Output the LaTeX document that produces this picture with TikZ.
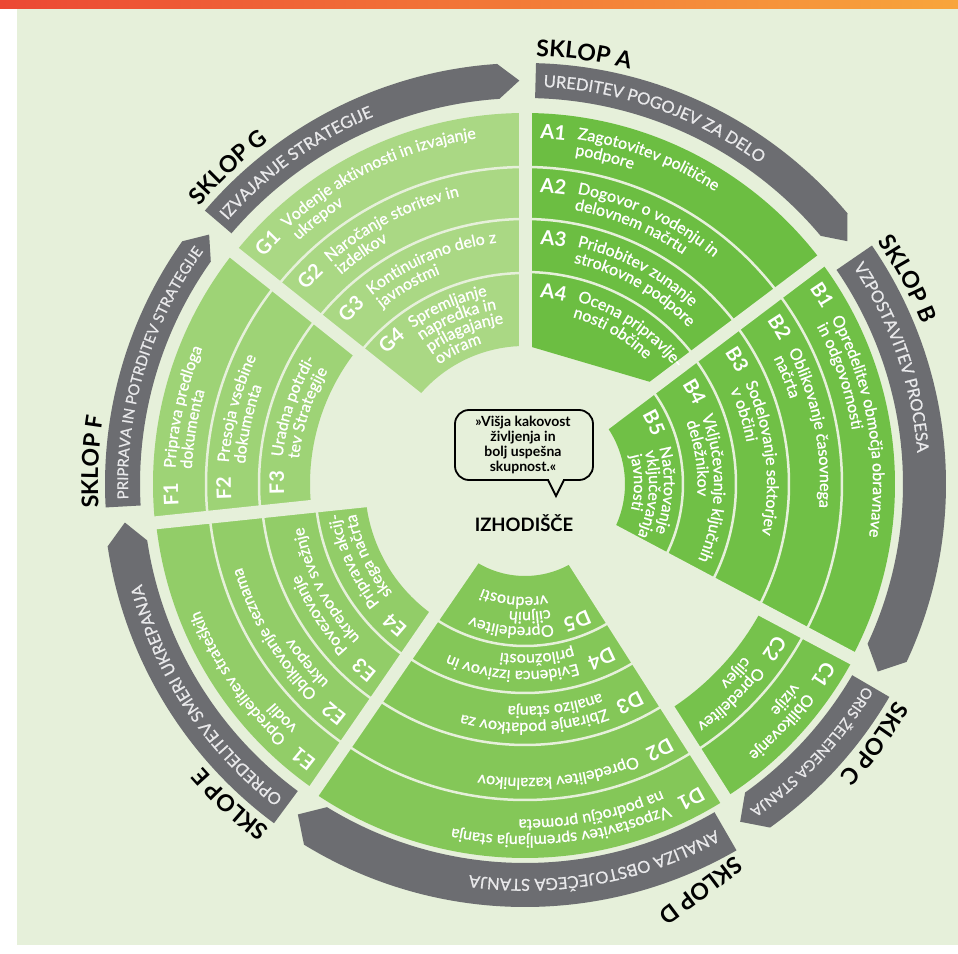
\documentclass[tikz,border=0pt]{standalone}
\usepackage{fontspec}
\setmainfont{Lato}
\newfontfamily\latomed[FakeBold=1.0]{Lato}
\newfontfamily\latoband[FakeBold=0.8]{Lato}
\usetikzlibrary{decorations.text}
\definecolor{bg}{RGB}{230,240,218}
\definecolor{gA}{RGB}{108,190,66}
\definecolor{gB}{RGB}{112,192,70}
\definecolor{gC}{RGB}{118,194,76}
\definecolor{gD}{RGB}{132,199,88}
\definecolor{gE}{RGB}{146,205,104}
\definecolor{gF}{RGB}{158,211,118}
\definecolor{gG}{RGB}{170,216,132}
\definecolor{bandc}{RGB}{108,109,113}
\definecolor{bandtxt}{RGB}{232,232,234}
\definecolor{orA}{RGB}{236,72,52}
\definecolor{orB}{RGB}{248,165,60}
\newcommand\bodyfont{\latomed\fontsize{16}{18}\selectfont}
\newcommand\labfont{\bfseries\fontsize{20}{22}\selectfont}
\newcommand\bandfont{\latoband\fontsize{16.5}{19}\selectfont}
\newcommand\bandfontc{\latoband\fontsize{14.8}{19}\selectfont}
\newcommand\bandfontf{\latoband\fontsize{14.9}{19}\selectfont}
\newcommand\sklopfont{\bfseries\fontsize{23}{25}\selectfont}
% text along a clockwise arc: radius, start angle, span, colour, font, text
\newcommand\arctxt[6]{\path[decorate,decoration={text along path,text align=left,text color=#4,text={|#5|#6}}] (#2:#1) arc[start angle=#2,end angle=#2-#3,radius=#1];}
\newcommand\mylab[3]{\pgfmathsetmacro\qqa{#1-15/#2*57.2958}\arctxt{#2}{\qqa}{70}{white}{\labfont}{#3}}
\newcommand\mytxt[4]{\pgfmathsetmacro\qqb{#1-52/#3*57.2958}\arctxt{#2}{\qqb}{110}{white}{\bodyfont}{#4}}
\newcommand\cellone[4]{\pgfmathsetmacro\qqr{#2-25}\pgfmathsetmacro\qqs{#2-22}%
 \mylab{#1}{\qqr}{#3}\mytxt{#1}{\qqs}{\qqr}{#4}}
\newcommand\celltwo[5]{\pgfmathsetmacro\qqr{#2-25}\pgfmathsetmacro\qqs{#2-22}\pgfmathsetmacro\qqt{#2-38.5}%
 \mylab{#1}{\qqr}{#3}\mytxt{#1}{\qqs}{\qqr}{#4}\mytxt{#1}{\qqt}{\qqr}{#5}}
\newcommand\cellthree[6]{\pgfmathsetmacro\qqr{#2-22}\pgfmathsetmacro\qqs{#2-19}\pgfmathsetmacro\qqt{#2-34}\pgfmathsetmacro\qqu{#2-49}%
 \mylab{#1}{\qqr}{#3}\mytxt{#1}{\qqs}{\qqr}{#4}\mytxt{#1}{\qqt}{\qqr}{#5}\mytxt{#1}{\qqu}{\qqr}{#6}}
\newcommand\cellfour[7]{\pgfmathsetmacro\qqr{#2-22}\pgfmathsetmacro\qqs{#2-19}\pgfmathsetmacro\qqt{#2-34}\pgfmathsetmacro\qqu{#2-49}\pgfmathsetmacro\qqv{#2-64}%
 \mylab{#1}{\qqr}{#3}\mytxt{#1}{\qqs}{\qqr}{#4}\mytxt{#1}{\qqt}{\qqr}{#5}\mytxt{#1}{\qqu}{\qqr}{#6}\mytxt{#1}{\qqv}{\qqr}{#7}}
% annular sector: a1, a2, rin, rout, colour
\newcommand\sector[5]{\fill[#5] (#1:#4) arc[start angle=#1,end angle=#2,radius=#4] -- (#2:#3) arc[start angle=#2,end angle=#1,radius=#3] -- cycle;}
\newcommand\divider[3]{\draw[bg,line width=2.5] (#1:#3) arc[start angle=#1,end angle=#2,radius=#3];}
% gray band arrow: tail, tip, rin, rout
\newcommand\band[4]{\pgfmathsetmacro\qqc{#2+3}\pgfmathsetmacro\qqm{(#3+#4)/2}%
 \fill[bandc] (#1:#4) arc[start angle=#1,end angle=\qqc,radius=#4] -- (#2:\qqm) -- (\qqc:#3) arc[start angle=\qqc,end angle=#1,radius=#3] -- cycle;}
\newcommand\bandtxt[5]{\pgfmathsetmacro\qqd{#1-#5/#2*57.2958}\arctxt{#2}{\qqd}{80}{bandtxt}{#3}{#4}}
\newcommand\sklop[3]{\arctxt{#2}{#1}{60}{black}{\sklopfont}{#3}}
\begin{document}
\begin{tikzpicture}[x=1pt,y=1pt]
\useasboundingbox (-525,-469) rectangle (433,484);
\fill[white] (-525,-469) rectangle (433,484);
\fill[bg] (-508,-461) rectangle (433,475);
\shade[left color=orA,right color=orB] (-525,475) rectangle (433,484);
% green sectors
\fill[gA] (90:371) arc[start angle=90,end angle=37,radius=371] -- (37:166) -- (90:139) -- cycle;
\foreach \r in {317,265,212} {\divider{90}{37}{\r}}
\sector{37}{-28}{100}{370}{gB}
\foreach \r in {317,264,211,158} {\divider{37}{-28}{\r}}
\sector{-28}{-57.5}{268}{372}{gC}
\divider{-28}{-57.5}{317}
\sector{-57.5}{-124.5}{92}{374}{gD}
\foreach \r in {316,261,209,162} {\divider{-57.5}{-124.5}{\r}}
\sector{-124.5}{-174}{160}{371}{gE}
\foreach \r in {317,264,210} {\divider{-124.5}{-174}{\r}}
\sector{-174}{-218.5}{215}{372}{gF}
\foreach \r in {319,266} {\divider{-174}{-218.5}{\r}}
\sector{-218.5}{-270}{138}{371}{gG}
\foreach \r in {317,265,211} {\divider{-218.5}{-270}{\r}}
\foreach \g in {90,37,-28,-57.5,-124.5,-174,-218.5} {\draw[bg,line width=13] (0,0) -- (\g:377);}
% gray bands
\band{88.5}{37}{386}{421}
\band{34.5}{-28}{378}{421}
\band{-30.3}{-57.5}{379}{422}
\band{-60}{-124.5}{379}{423}
\band{-126.5}{-174.5}{382}{422}
\band{-176.8}{-218.3}{385}{420}
\band{-220.5}{-269.2}{386}{421}
\bandtxt{88.5}{397.5}{\bandfont}{UREDITEV POGOJEV ZA DELO}{8}
\bandtxt{34.5}{393.5}{\bandfont}{VZPOSTAVITEV PROCESA}{7}
\bandtxt{-30.3}{395}{\bandfontc}{ORIS ŽELENEGA STANJA}{3}
\bandtxt{-60}{395}{\bandfont}{ANALIZA OBSTOJEČEGA STANJA}{8}
\bandtxt{-126.5}{396}{\bandfont}{OPREDELITEV SMERI UKREPANJA}{8}
\bandtxt{-176.8}{397}{\bandfontf}{PRIPRAVA IN POTRDITEV STRATEGIJE}{7}
\bandtxt{-220.5}{397.5}{\bandfont}{IZVAJANJE STRATEGIJE}{7}
\sklop{88.5}{428}{SKLOP A}
\sklop{34.5}{428}{SKLOP B}
\sklop{-30.3}{429}{SKLOP C}
\node[font=\sklopfont,rotate=217,inner sep=0pt] (sklopD) at (176,-407) {SKLOP D};
\sklop{-126.5}{429}{SKLOP E}
\sklop{-176.8}{427}{SKLOP F}
\sklop{-220.5}{428}{SKLOP G}
% cells
\celltwo{90}{371}{A1}{Zagotovitev politične}{podpore}
\celltwo{90}{317}{A2}{Dogovor o vodenju in}{delovnem načrtu}
\celltwo{90}{265}{A3}{Pridobitev zunanje}{strokovne podpore}
\celltwo{90}{212}{A4}{Ocena pripravlje-}{nosti občine}
\celltwo{37}{370}{B1}{Opredelitev območja obravnave}{in odgovornosti}
\celltwo{37}{317}{B2}{Oblikovanje časovnega}{načrta}
\celltwo{37}{264}{B3}{Sodelovanje sektorjev}{v občini}
\celltwo{37}{211}{B4}{Vključevanje ključnih}{deležnikov}
\cellthree{37}{158}{B5}{Načrtovanje}{vključevanja}{javnosti}
\celltwo{-28}{372}{C1}{Oblikovanje}{vizije}
\celltwo{-28}{317}{C2}{Opredelitev}{ciljev}
\celltwo{-57.5}{374}{D1}{Vzpostavitev spremljanja stanja}{na področju prometa}
\cellone{-57.5}{316}{D2}{Opredelitev kazalnikov}
\celltwo{-57.5}{261}{D3}{Zbiranje podatkov za}{analizo stanja}
\celltwo{-57.5}{209}{D4}{Evidenca izzivov in}{priložnosti}
\cellthree{-57.5}{162}{D5}{Opredelitev}{ciljnih}{vrednosti}
\celltwo{-124.5}{371}{E1}{Opredelitev strateških}{vodil}
\celltwo{-124.5}{317}{E2}{Oblikovanje seznama}{ukrepov}
\celltwo{-124.5}{264}{E3}{Povezovanje}{ukrepov v svežnje}
\celltwo{-124.5}{210}{E4}{Priprava akcij-}{skega načrta}
\celltwo{-174}{372}{F1}{Priprava predloga}{dokumenta}
\celltwo{-174}{319}{F2}{Presoja vsebine}{dokumenta}
\celltwo{-174}{266}{F3}{Uradna potrdi-}{tev Strategije}
\celltwo{-218.5}{371}{G1}{Vodenje aktivnosti in izvajanje}{ukrepov}
\celltwo{-218.5}{317}{G2}{Naročanje storitev in}{izdelkov}
\celltwo{-218.5}{265}{G3}{Kontinuirano delo z}{javnostmi}
\cellfour{-218.5}{211}{G4}{Spremljanje}{napredka in}{prilagajanje}{oviram}
% centre
\draw[line width=1.8,rounded corners=14] (-70,4) rectangle (68,74);
\fill[bg] (24,5.5) rectangle (38,2);
\draw[line width=1.8,line join=miter] (23,4) -- (31,-12) -- (39,4);
\node[align=center,font=\bfseries\fontsize{14}{15}\selectfont] (quote) at (-2,39) {»Višja kakovost\\življenja in\\bolj uspešna\\skupnost.«};
\node[font=\bfseries\fontsize{18.5}{20}\selectfont] (izh) at (-1,-39) {IZHODIŠČE};
\end{tikzpicture}
\end{document}
